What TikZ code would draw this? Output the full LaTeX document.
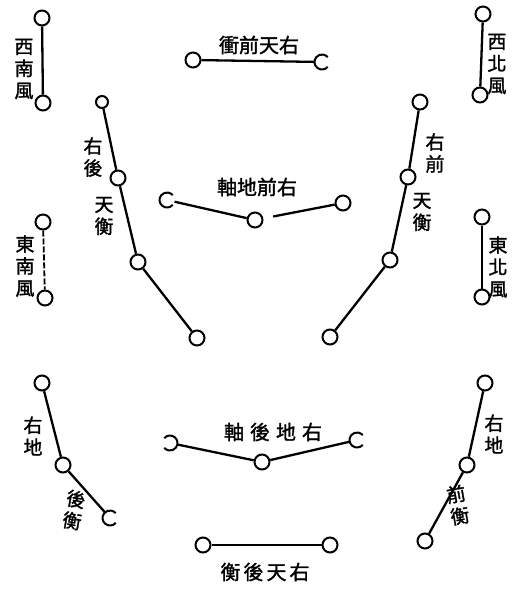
\documentclass[tikz,border=0pt]{standalone}
\usepackage{fontspec}
\newfontfamily\cjk[FakeBold=1.5]{Noto Sans CJK TC}
\usetikzlibrary{positioning}
\tikzset{
  star/.style={draw,circle,line width=2pt,minimum size=15pt,inner sep=0pt,fill=white},
  smallstar/.style={star,minimum size=12pt},
  open/.style={circle,minimum size=15pt,inner sep=0pt},
  link/.style={line width=2.3pt},
  vlbl/.style={align=center,inner sep=0pt,font=\cjk\fontsize{19}{22}\selectfont},
  hlbl/.style={inner sep=0pt,font=\cjk\fontsize{20}{22}\selectfont}
}
% open ring round an unseen node
\newcommand\cring[3]{\draw[line width=2pt] ([shift={(#2:7.5)}]#1.center) arc[start angle=#2,end angle=#3,radius=7.5];}

\begin{document}
\begin{tikzpicture}[x=1pt,y=-1pt]
\useasboundingbox (0,0) rectangle (517,589);

% west-south wind
\node[star] (sw1) at (42,18) {};
\node[star] (sw2) at (43,103) {};
\draw[link] (sw1) -- (sw2);
\node[vlbl] (swl) at (24,69) {西\\南\\風};

% west-north wind
\node[star] (nw1) at (483,14) {};
\node[star] (nw2) at (480,95) {};
\draw[link] (nw1) -- (nw2);
\node[vlbl] (nwl) at (497,64) {西\\北\\風};

% top line
\node[star] (tf1) at (193,60) {};
\node[open] (tf2) at (322,62) {};
\cring{tf2}{40}{320}
\draw[link] (tf1) -- (tf2);
\node[hlbl] (tfl) at (259,45) {衝前天右};

% right-rear heaven chain
\node[smallstar] (rh1) at (102,102) {};
\node[star] (rh2) at (118,178) {};
\node[star] (rh3) at (138,262) {};
\node[star] (rh4) at (197,338) {};
\draw[link] (rh1) -- (rh2) -- (rh3) -- (rh4);
\node[vlbl] (rhl1) at (93,157) {右\\後};
\node[vlbl] (rhl2) at (104,216) {天\\衡};

% right-front heaven chain
\node[star] (rf1) at (420,102) {};
\node[star] (rf2) at (408,177) {};
\node[star] (rf3) at (390,260) {};
\node[star] (rf4) at (330,337) {};
\draw[link] (rf1) -- (rf2) -- (rf3) -- (rf4);
\node[vlbl] (rfl1) at (435,153) {右\\前};
\node[vlbl] (rfl2) at (422,212) {天\\衡};

% front axle
\node[open] (fa1) at (167,200) {};
\cring{fa1}{40}{320}
\node[star] (fa2) at (255,220) {};
\node[star] (fa3) at (343,203) {};
\draw[link] (fa1) -- (fa2);
\draw[link,shorten <=10pt] (fa2) -- (fa3);
\node[hlbl] (fal) at (257,187) {軸地前右};

% east-south wind
\node[star] (se1) at (43,222) {};
\node[star] (se2) at (45,298) {};
\draw[link,line width=1.8pt,dash pattern=on 6pt off 2pt] (se1) -- (se2);
\node[vlbl] (sel) at (25,266) {東\\南\\風};

% east-north wind
\node[star] (ne1) at (482,217) {};
\node[star] (ne2) at (482,297) {};
\draw[link] (ne1) -- (ne2);
\node[vlbl] (nel) at (498,267) {東\\北\\風};

% right-earth rear chain
\node[star] (re1) at (42,383) {};
\node[star] (re2) at (63,465) {};
\node[open] (re3) at (110,518) {};
\cring{re3}{40}{320}
\draw[link] (re1) -- (re2) -- (re3);
\node[vlbl] (rel1) at (33,436) {右\\地};
\node[vlbl,rotate=-10] (rel2) at (74,510) {後\\衡};

% rear axle
\node[open] (ra1) at (170,443) {};
\cring{ra1}{-140}{140}
\node[star] (ra2) at (262,462) {};
\node[open] (ra3) at (357,440) {};
\cring{ra3}{40}{320}
\draw[link] (ra1) -- (ra2) -- (ra3);
\node[hlbl] (ral) at (273,432) {軸\hspace{6pt}後\hspace{6pt}地\hspace{6pt}右};

% right-earth front chain
\node[star] (fe1) at (485,383) {};
\node[star] (fe2) at (467,465) {};
\node[star] (fe3) at (425,541) {};
\draw[link] (fe1) -- (fe2) -- (fe3);
\node[vlbl] (fel1) at (494,434) {右\\地};
\node[vlbl,rotate=10] (fel2) at (458,505) {前\\衡};

% bottom line
\node[star] (rb1) at (203,545) {};
\node[star] (rb2) at (330,545) {};
\draw[link] (rb1) -- (rb2);
\node[hlbl] (rbl) at (265,572) {衡\hspace{3pt}後\hspace{3pt}天\hspace{3pt}右};

\end{tikzpicture}
\end{document}
